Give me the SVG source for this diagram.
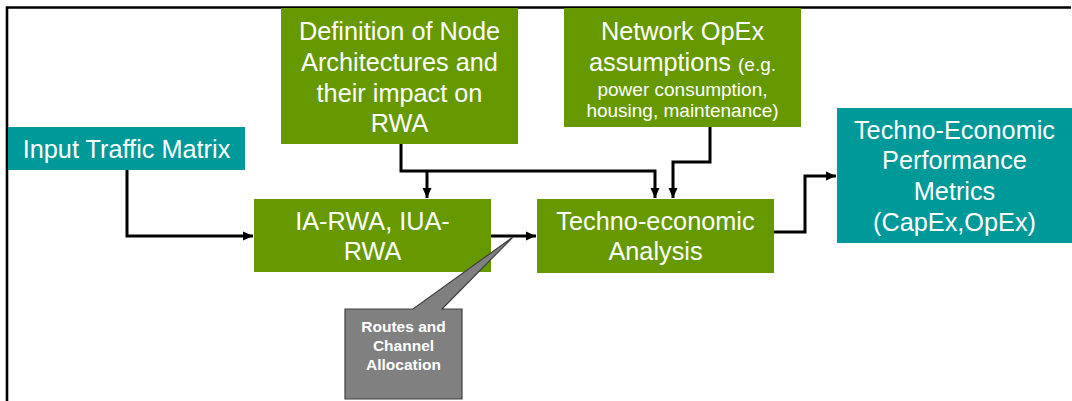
<svg xmlns="http://www.w3.org/2000/svg" width="1072" height="401" viewBox="0 0 1072 401">
<defs>
<style>
.g{fill:#669900}
.t{fill:#009999}
.lbl{font-family:"Liberation Sans",Arial,sans-serif;font-size:25.3px;fill:#ffffff;text-anchor:middle}
.sm{font-size:19px}
.co{font-family:"Liberation Sans",Arial,sans-serif;font-size:15.5px;font-weight:bold;fill:#ffffff;text-anchor:middle}
.c{fill:none;stroke:#000;stroke-width:3}
</style>
<marker id="ah" markerUnits="userSpaceOnUse" markerWidth="11" markerHeight="10" refX="10" refY="5" orient="auto">
<path d="M0,0.5 L10,5 L0,9.5 Z" fill="#000"/>
</marker>
</defs>
<rect width="1072" height="401" fill="#ffffff"/>
<path d="M7,401 V7.5 H1071" fill="none" stroke="#000" stroke-width="2.6"/>

<g id="connectors">
<path class="c" d="M127,170 V236 H253" marker-end="url(#ah)"/>
<path class="c" d="M401,144 V171 H655 V198" marker-end="url(#ah)"/>
<path class="c" d="M427,171 V198" marker-end="url(#ah)"/>
<path class="c" d="M710,127 V162 H673 V198" marker-end="url(#ah)"/>
<path class="c" d="M491,236 H536" marker-end="url(#ah)"/>
<path class="c" d="M774,232 H805 V176 H836" marker-end="url(#ah)"/>
</g>

<g id="input-traffic-matrix">
<rect class="t" x="8" y="127" width="237" height="43"/>
<text class="lbl" x="126.5" y="158">Input Traffic Matrix</text>
</g>

<g id="node-architectures">
<rect class="g" x="281" y="8" width="237" height="136"/>
<text class="lbl" x="399.5" y="40">Definition of Node</text>
<text class="lbl" x="399.5" y="71">Architectures and</text>
<text class="lbl" x="399.5" y="101.5">their impact on</text>
<text class="lbl" x="399.5" y="132">RWA</text>
</g>

<g id="opex-assumptions">
<rect class="g" x="564" y="8" width="237" height="119"/>
<text class="lbl" x="682.5" y="40">Network OpEx</text>
<text class="lbl" x="682.5" y="71">assumptions <tspan class="sm">(e.g.</tspan></text>
<text class="lbl sm" x="682.5" y="96">power consumption,</text>
<text class="lbl sm" x="682.5" y="117">housing, maintenance)</text>
</g>

<g id="ia-rwa">
<rect class="g" x="254" y="199" width="237" height="73"/>
<text class="lbl" x="372.5" y="229.5">IA-RWA, IUA-</text>
<text class="lbl" x="372.5" y="260">RWA</text>
</g>

<g id="techno-economic-analysis">
<rect class="g" x="537" y="199" width="237" height="74"/>
<text class="lbl" x="655.5" y="229.5">Techno-economic</text>
<text class="lbl" x="655.5" y="260">Analysis</text>
</g>

<g id="performance-metrics">
<rect class="t" x="837" y="108" width="235" height="135"/>
<text class="lbl" x="954.5" y="138.5">Techno-Economic</text>
<text class="lbl" x="954.5" y="169.3">Performance</text>
<text class="lbl" x="954.5" y="200">Metrics</text>
<text class="lbl" x="954.5" y="230.5">(CapEx,OpEx)</text>
</g>

<g id="routes-callout">
<path d="M345,309 H413 L513,237 L442,309 H462 V399 H345 Z" fill="#808080" stroke="#404040" stroke-width="1.2"/>
<text class="co" x="403.5" y="332">Routes and</text>
<text class="co" x="403.5" y="351">Channel</text>
<text class="co" x="403.5" y="370">Allocation</text>
</g>
</svg>
